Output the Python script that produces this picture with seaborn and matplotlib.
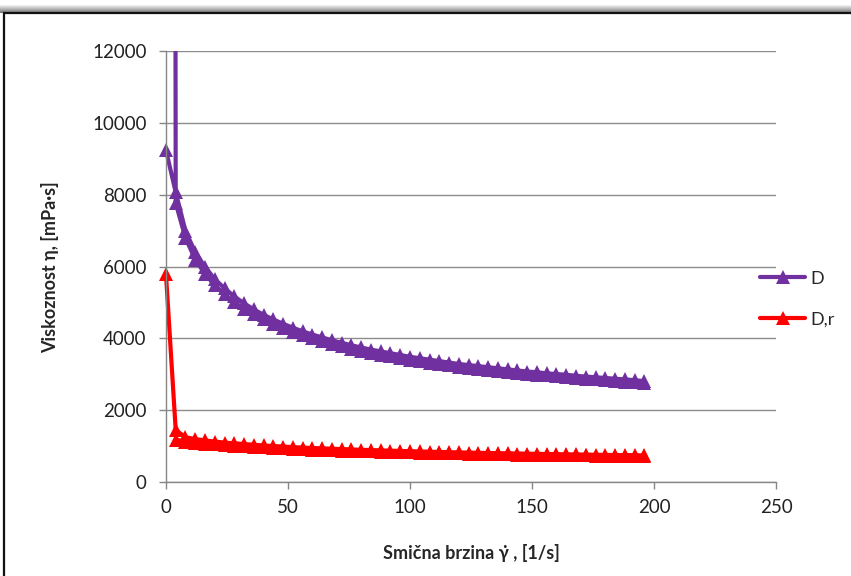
import numpy as np
import pandas as pd
import seaborn as sns
import matplotlib.pyplot as plt
from matplotlib.patches import Rectangle

# shear rate steps [1/s]
brzina = [0, 4, 8, 12, 16, 20, 24, 28, 32, 36, 40, 44, 48, 52, 56, 60, 64, 68, 72, 76,
          80, 84, 88, 92, 96, 100, 104, 108, 112, 116, 120, 124, 128, 132, 136, 140,
          144, 148, 152, 156, 160, 164, 168, 172, 176, 180, 184, 188, 192, 196]

# D - up sweep (starts at 0), down sweep (from 4 to 196, drawn in reverse)
D_gore = [9250, 8070, 7000, 6400, 6000, 5650, 5400, 5170, 4980, 4810, 4660, 4530, 4410,
          4300, 4200, 4110, 4030, 3950, 3880, 3810, 3750, 3690, 3640, 3590, 3540, 3490,
          3450, 3410, 3370, 3330, 3290, 3260, 3230, 3200, 3170, 3140, 3110, 3080, 3060,
          3030, 3010, 2990, 2960, 2940, 2920, 2900, 2880, 2860, 2840, 2810]
D_dolje = [7770, 6800, 6200, 5800, 5480, 5230, 5010, 4830, 4670, 4530, 4400, 4290, 4180,
           4090, 4000, 3920, 3850, 3780, 3710, 3650, 3600, 3550, 3500, 3450, 3410, 3370,
           3330, 3290, 3250, 3220, 3190, 3160, 3130, 3100, 3070, 3040, 3020, 2990, 2970,
           2950, 2930, 2900, 2880, 2860, 2840, 2820, 2800, 2780, 2760]
D_kraj_x, D_kraj_y = 3.6, 30000  # last reading, far off scale

# D,r
Dr_gore = [5800, 1450, 1250, 1200, 1160, 1130, 1100, 1080, 1060, 1040, 1020, 1005, 990,
           975, 962, 950, 940, 930, 920, 910, 900, 892, 884, 876, 868, 861, 854, 847, 840,
           834, 828, 822, 816, 811, 806, 801, 796, 791, 787, 782, 778, 774, 770, 766, 762,
           758, 754, 751, 748, 745]
Dr_dolje = [1180, 1130, 1100, 1075, 1050, 1030, 1010, 995, 980, 965, 950, 938, 926, 915,
            905, 895, 886, 877, 869, 861, 853, 846, 839, 832, 826, 820, 814, 808, 802, 797,
            792, 787, 782, 777, 773, 769, 765, 761, 757, 753, 749, 746, 742, 739, 736, 733,
            730, 727, 724]

x_dolje = brzina[1:][::-1]
df = pd.concat([
    pd.DataFrame({'x': brzina + x_dolje + [D_kraj_x],
                  'y': D_gore + D_dolje[::-1] + [D_kraj_y], 'uzorak': 'D'}),
    pd.DataFrame({'x': brzina + x_dolje,
                  'y': Dr_gore + Dr_dolje[::-1], 'uzorak': 'D,r'}),
], ignore_index=True)

sns.set_style('white')
plt.rcParams['font.family'] = ['Lato', 'DejaVu Sans']

fig = plt.figure(figsize=(8.51, 5.76), dpi=100)
ax = fig.add_axes([0.195, 0.163, 0.717, 0.748])

sns.lineplot(data=df, x='x', y='y', hue='uzorak', sort=False, estimator=None,
             palette={'D': '#7030A0', 'D,r': '#FF0000'}, marker='^', markersize=10,
             markeredgewidth=0, linewidth=3, ax=ax)

# let the markers at x=0 show fully, but still cut the curve at the top
klip = Rectangle((-0.05, -0.05), 1.1, 1.05, transform=ax.transAxes)
for ln in ax.lines:
    ln.set_clip_path(klip)

ax.set_xlim(0, 250)
ax.set_ylim(0, 12000)
ax.set_xticks(range(0, 251, 50))
ax.set_yticks(range(0, 12001, 2000))
ax.grid(axis='y', color='#8c8c8c', linewidth=1)
ax.set_axisbelow(True)
for s in ['top', 'right']:
    ax.spines[s].set_visible(False)
for s in ['left', 'bottom']:
    ax.spines[s].set_color('#868686')
    ax.spines[s].set_linewidth(1)
ax.tick_params(axis='both', colors='#868686', labelcolor='#222222', labelsize=13.5,
               length=5, width=1, direction='out')
ax.tick_params(axis='y', pad=9, left=True)
ax.tick_params(axis='x', pad=7, bottom=True)

ax.set_xlabel('Smična brzina γ̇ , [1/s]', fontsize=13, fontweight='bold', labelpad=20)
ax.set_ylabel('Viskoznost η, [mPa·s]', fontsize=13, fontweight='bold', labelpad=24)

ax.get_legend().remove()
h, l = ax.get_legend_handles_labels()
fig.legend(h, l, loc='center left', bbox_to_anchor=(0.893, 0.481), frameon=False,
           fontsize=13, borderpad=0, borderaxespad=0, handlelength=2.5,
           handletextpad=0.3, labelspacing=1.35)

# chart frame with shadow along the top
fig.patches.append(Rectangle((4 / 851, -0.1), 1.2, (576 - 13) / 576 + 0.1,
                             transform=fig.transFigure, fill=False,
                             edgecolor='#111111', linewidth=1.6))
sh = fig.add_axes([0, 1 - 13 / 576, 1, 8 / 576])
sh.imshow(np.linspace(0.95, 0.45, 20).reshape(-1, 1), cmap='gray', vmin=0, vmax=1,
          aspect='auto', extent=[0, 1, 0, 1])
sh.axis('off')

fig.savefig('out.png', dpi=100)
